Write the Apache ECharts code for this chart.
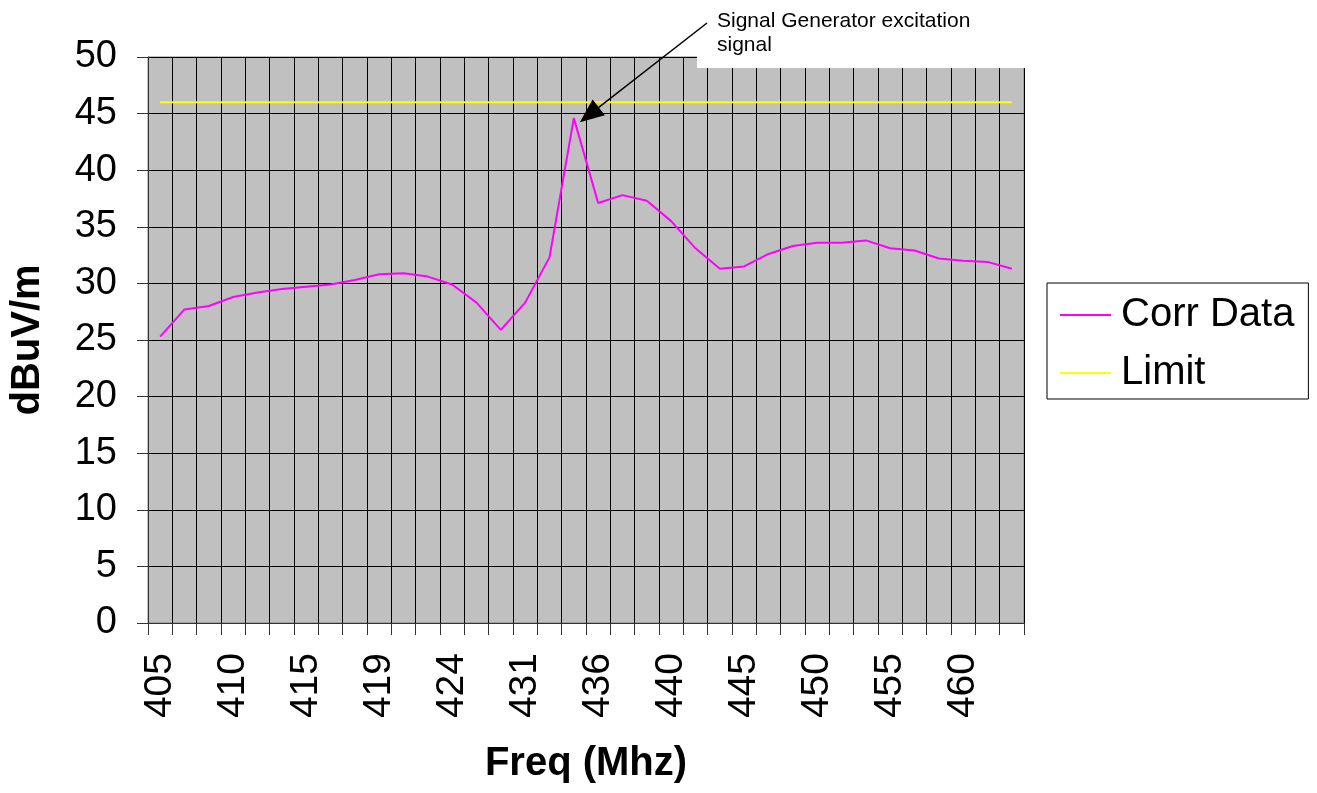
<!DOCTYPE html>
<html>
<head>
<meta charset="utf-8">
<script src="https://cdn.jsdelivr.net/npm/echarts@6/dist/echarts.min.js"></script>
<style>
html,body{margin:0;padding:0;background:#fff;}
#chart{width:1317px;height:793px;}
</style>
</head>
<body>
<div id="chart"></div>
<script>
// Frequency categories (MHz); only every third one is labelled in the reference
var categories = [405,407,408,410,412,413,415,416,418,419,421,422,424,426,429,431,433,434,
                  436,437,439,440,442,443,445,447,448,450,452,453,455,457,458,460,462,463];
// Corrected measurement data (dBuV/m)
var corrData = [25.3,27.7,28.0,28.8,29.2,29.5,29.7,29.9,30.3,30.8,30.9,30.6,29.9,28.3,25.9,28.3,32.3,44.6,
                37.1,37.8,37.3,35.5,33.1,31.3,31.5,32.6,33.3,33.6,33.6,33.8,33.1,32.9,32.2,32.0,31.9,31.3];
// Limit line (dBuV/m)
var limitData = [46,46,46,46,46,46,46,46,46,46,46,46,46,46,46,46,46,46,
                 46,46,46,46,46,46,46,46,46,46,46,46,46,46,46,46,46,46];
var yTicks = {min:0, max:50, interval:5};
var annotationText = 'Signal Generator excitation\nsignal';
var peakIndex = 17;

var FONT = "'Liberation Sans', Arial, sans-serif";
var chart = echarts.init(document.getElementById('chart'));
chart.setOption({
  animation: false,
  backgroundColor: '#ffffff',
  grid: {left:148, right:293, top:57, bottom:170, show:true, backgroundColor:'#c0c0c0', borderColor:'#808080', borderWidth:1, containLabel:false},
  legend: {
    orient:'vertical', left:1047, top:283,
    padding:[9,14,3,13], itemWidth:51, itemHeight:2, itemGap:12,
    icon:'rect',
    borderColor:'#000', borderWidth:1, backgroundColor:'#fff',
    textStyle:{fontFamily:FONT, fontSize:40, color:'#000', lineHeight:46, padding:[0,0,0,5]},
    data:['Corr Data','Limit']
  },
  xAxis: {
    type:'category', data:categories, boundaryGap:true,
    name:'Freq (Mhz)', nameLocation:'middle', nameGap:121,
    nameTextStyle:{fontFamily:FONT, fontSize:40, fontWeight:'bold', color:'#000'},
    axisLine:{show:true, lineStyle:{color:'#333', width:1}},
    axisTick:{show:true, interval:0, length:12, lineStyle:{color:'#333'}},
    axisLabel:{interval:2, rotate:90, margin:30, fontFamily:FONT, fontSize:39, color:'#000'},
    splitLine:{show:true, interval:0, lineStyle:{color:'#000', width:1}}
  },
  yAxis: {
    type:'value', min:yTicks.min, max:yTicks.max, interval:yTicks.interval,
    name:'dBuV/m', nameLocation:'middle', nameGap:100,
    nameTextStyle:{fontFamily:FONT, fontSize:40, fontWeight:'bold', color:'#000'},
    axisLine:{show:true, lineStyle:{color:'#333', width:1}},
    axisTick:{show:true, length:11, lineStyle:{color:'#333'}},
    axisLabel:{margin:31, fontFamily:FONT, fontSize:38, color:'#000'},
    splitLine:{show:true, lineStyle:{color:'#000', width:1}}
  },
  series: [
    {name:'Corr Data', type:'line', data:corrData, symbol:'none', lineStyle:{color:'#ff00ff', width:2}, itemStyle:{color:'#ff00ff'}, z:3},
    {name:'Limit', type:'line', data:limitData, symbol:'none', lineStyle:{color:'#ffff00', width:2}, itemStyle:{color:'#ffff00'}, z:2}
  ]
});

// Annotation: text box + arrow to the peak
var peak = chart.convertToPixel({gridIndex:0}, [peakIndex, corrData[peakIndex]]);
var tip = [peak[0] + 6, peak[1] + 4];
var start = [707, 23];
var dx = start[0] - tip[0], dy = start[1] - tip[1];
var len = Math.sqrt(dx*dx + dy*dy);
var ux = dx/len, uy = dy/len;
var headLen = 24, headHalf = 10;
var bx = tip[0] + ux*headLen, by = tip[1] + uy*headLen;
var p1 = [bx - uy*headHalf, by + ux*headHalf];
var p2 = [bx + uy*headHalf, by - ux*headHalf];
var gridRight = 1317 - 293;
chart.setOption({
  graphic: [
    {type:'rect', z:100, shape:{x:697, y:0, width:gridRight + 1 - 697, height:68}, style:{fill:'#fff'}},
    {type:'text', z:101, x:717, y:9, style:{text:annotationText, font:'21px ' + FONT, fill:'#000', lineHeight:24, verticalAlign:'top', align:'left'}},
    {type:'line', z:101, shape:{x1:start[0], y1:start[1], x2:bx, y2:by}, style:{stroke:'#000', lineWidth:1.5}},
    {type:'polygon', z:101, shape:{points:[tip, p1, p2]}, style:{fill:'#000'}}
  ]
});
</script>
</body>
</html>
